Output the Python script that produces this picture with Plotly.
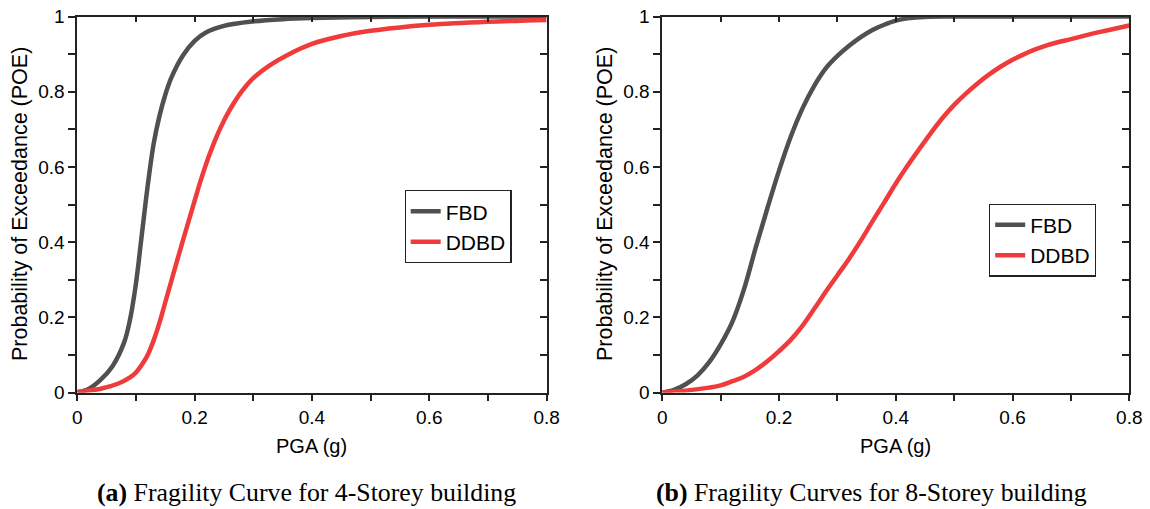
import plotly.graph_objects as go

# ---- data ----
a_fbd_x = [0, 0.02, 0.04, 0.06, 0.08, 0.09, 0.10, 0.11, 0.12, 0.13, 0.14, 0.15, 0.16, 0.18,
           0.20, 0.22, 0.25, 0.30, 0.35, 0.40, 0.5, 0.6, 0.8]
a_fbd_y = [0, 0.010, 0.034, 0.070, 0.134, 0.195, 0.290, 0.420, 0.550, 0.660, 0.735, 0.792,
           0.836, 0.896, 0.935, 0.958, 0.975, 0.987, 0.993, 0.996, 0.999, 1.0, 1.0]

a_ddbd_x = [0, 0.04, 0.07, 0.09, 0.10, 0.11, 0.12, 0.13, 0.14, 0.15, 0.16, 0.17, 0.18, 0.19,
            0.20, 0.21, 0.22, 0.23, 0.24, 0.25, 0.26, 0.28, 0.30, 0.33, 0.36, 0.40, 0.45,
            0.50, 0.55, 0.60, 0.70, 0.80]
a_ddbd_y = [0.002, 0.010, 0.024, 0.040, 0.053, 0.074, 0.100, 0.138, 0.185, 0.240, 0.295,
            0.350, 0.404, 0.457, 0.510, 0.562, 0.610, 0.652, 0.690, 0.723, 0.752, 0.800,
            0.836, 0.872, 0.899, 0.927, 0.948, 0.962, 0.971, 0.978, 0.986, 0.991]

b_fbd_x = [0, 0.02, 0.04, 0.06, 0.08, 0.10, 0.12, 0.14, 0.16, 0.18, 0.20, 0.22, 0.24, 0.26,
           0.28, 0.30, 0.32, 0.34, 0.36, 0.38, 0.40, 0.42, 0.45, 0.50, 0.80]
b_fbd_y = [0, 0.007, 0.022, 0.045, 0.080, 0.128, 0.188, 0.275, 0.385, 0.490, 0.590, 0.680,
           0.755, 0.815, 0.862, 0.895, 0.922, 0.945, 0.964, 0.978, 0.989, 0.995, 0.999, 1.0, 1.0]

b_ddbd_x = [0, 0.04, 0.08, 0.10, 0.12, 0.14, 0.16, 0.18, 0.20, 0.22, 0.24, 0.26, 0.28, 0.30,
            0.32, 0.34, 0.36, 0.38, 0.40, 0.42, 0.44, 0.46, 0.48, 0.50, 0.52, 0.54, 0.56,
            0.58, 0.60, 0.62, 0.64, 0.66, 0.70, 0.75, 0.80]
b_ddbd_y = [0, 0.005, 0.013, 0.019, 0.030, 0.042, 0.060, 0.083, 0.110, 0.140, 0.177, 0.222,
            0.268, 0.312, 0.356, 0.404, 0.455, 0.505, 0.556, 0.603, 0.647, 0.690, 0.730,
            0.765, 0.795, 0.822, 0.846, 0.867, 0.885, 0.900, 0.913, 0.924, 0.940, 0.959, 0.976]

series_names = ["FBD", "DDBD"]
x_ticks = [0, 0.2, 0.4, 0.6, 0.8]
y_ticks = [0, 0.2, 0.4, 0.6, 0.8, 1]
captions = ["<b>(a)</b> Fragility Curve for 4-Storey building",
            "<b>(b)</b> Fragility Curves for 8-Storey building"]
x_title = "PGA (g)"
y_title = "Probability of Exceedance (POE)"

GRAY = "#505050"
RED = "#ef3b3b"
W, H = 1150, 509
FONT = "Liberation Sans, Arial, sans-serif"

def px_x(p):
    return p / W

def px_y(p):
    return 1 - p / H

dom_a = [px_x(77.3), px_x(546.6)]
dom_b = [px_x(662.3), px_x(1129.3)]
dom_y = [px_y(392.5), px_y(16.5)]

fig = go.Figure()
line_kw = dict(width=4.5, shape="spline", smoothing=1.0)
fig.add_trace(go.Scatter(x=a_fbd_x, y=a_fbd_y, name=series_names[0], mode="lines",
                         line=dict(color=GRAY, **line_kw), xaxis="x", yaxis="y", legend="legend"))
fig.add_trace(go.Scatter(x=a_ddbd_x, y=a_ddbd_y, name=series_names[1], mode="lines",
                         line=dict(color=RED, **line_kw), xaxis="x", yaxis="y", legend="legend"))
fig.add_trace(go.Scatter(x=b_fbd_x, y=b_fbd_y, name=series_names[0], mode="lines",
                         line=dict(color=GRAY, **line_kw), xaxis="x2", yaxis="y2", legend="legend2"))
fig.add_trace(go.Scatter(x=b_ddbd_x, y=b_ddbd_y, name=series_names[1], mode="lines",
                         line=dict(color=RED, **line_kw), xaxis="x2", yaxis="y2", legend="legend2"))
# empty traces so the mirrored (inside-tick) axes get drawn
fig.add_trace(go.Scatter(x=[None], y=[None], xaxis="x3", yaxis="y3", showlegend=False, hoverinfo="skip"))
fig.add_trace(go.Scatter(x=[None], y=[None], xaxis="x4", yaxis="y4", showlegend=False, hoverinfo="skip"))

AX_COL = "#222222"
tickfont = dict(family=FONT, size=19, color="black")

def xmain(domain, anchor):
    return dict(domain=domain, anchor=anchor, range=[0, 0.8], tickvals=x_ticks,
                ticktext=[f"{v:g}" for v in x_ticks],
                ticks="outside", ticklen=7, tickwidth=1.5, tickcolor=AX_COL,
                minor=dict(dtick=0.1, ticks="outside", ticklen=7, tickwidth=1.5, tickcolor=AX_COL),
                showline=True, linewidth=1.8, linecolor=AX_COL, showgrid=False, zeroline=False,
                tickfont=tickfont, fixedrange=True, automargin=False)

def ymain(domain, anchor):
    return dict(domain=domain, anchor=anchor, range=[0, 1], tickvals=y_ticks,
                ticktext=[f"{v:g}" for v in y_ticks],
                ticks="outside", ticklen=7, tickwidth=1.5, tickcolor=AX_COL,
                minor=dict(dtick=0.1, ticks="outside", ticklen=7, tickwidth=1.5, tickcolor=AX_COL),
                showline=True, linewidth=1.8, linecolor=AX_COL, showgrid=False, zeroline=False,
                tickfont=tickfont, fixedrange=True, automargin=False)

def xmirror(over, anchor):
    return dict(overlaying=over, anchor=anchor, side="top", range=[0, 0.8], dtick=0.2,
                ticks="inside", ticklen=6, tickwidth=1.5, tickcolor=AX_COL,
                minor=dict(dtick=0.1, ticks="inside", ticklen=6, tickwidth=1.5, tickcolor=AX_COL),
                showticklabels=False, showline=True, linewidth=1.8, linecolor=AX_COL,
                showgrid=False, zeroline=False, fixedrange=True)

def ymirror(over, anchor):
    return dict(overlaying=over, anchor=anchor, side="right", range=[0, 1], dtick=0.2,
                ticks="inside", ticklen=7, tickwidth=1.5, tickcolor=AX_COL,
                minor=dict(dtick=0.1, ticks="inside", ticklen=7, tickwidth=1.5, tickcolor=AX_COL),
                showticklabels=False, showline=True, linewidth=1.8, linecolor=AX_COL,
                showgrid=False, zeroline=False, fixedrange=True)

legend_style = dict(font=dict(family=FONT, size=21, color="black"), bgcolor="white",
                    bordercolor="#222222", borderwidth=1.2, xanchor="left", yanchor="middle",
                    xref="paper", yref="paper", itemwidth=30, tracegroupgap=0,
                    entrywidth=78, entrywidthmode="pixels")

fig.update_layout(
    width=W, height=H, margin=dict(l=0, r=0, t=0, b=0),
    paper_bgcolor="white", plot_bgcolor="white", showlegend=True,
    xaxis=xmain(dom_a, "y"), yaxis=ymain(dom_y, "x"),
    xaxis2=xmain(dom_b, "y2"), yaxis2=ymain(dom_y, "x2"),
    xaxis3=xmirror("x", "y3"), yaxis3=ymirror("y", "x3"),
    xaxis4=xmirror("x2", "y4"), yaxis4=ymirror("y2", "x4"),
    legend=dict(x=px_x(404.5), y=px_y(226.5), **legend_style),
    legend2=dict(x=px_x(989), y=px_y(240), **legend_style),
)

ann = []
for cx in [(77.3 + 546.6) / 2, (662.3 + 1129.3) / 2]:
    ann.append(dict(text=x_title, x=px_x(cx), y=px_y(446), xref="paper", yref="paper",
                    xanchor="center", yanchor="middle", showarrow=False,
                    font=dict(family=FONT, size=20, color="black")))
for cx in [20, 605]:
    ann.append(dict(text=y_title, x=px_x(cx), y=px_y(204), xref="paper", yref="paper",
                    xanchor="center", yanchor="middle", showarrow=False, textangle=-90,
                    font=dict(family=FONT, size=21.5, color="black")))
for cx, cap in zip([306, 871], captions):
    ann.append(dict(text=cap, x=px_x(cx), y=px_y(492), xref="paper", yref="paper",
                    xanchor="center", yanchor="middle", showarrow=False,
                    font=dict(family="Liberation Serif, Times New Roman, serif", size=25.8, color="black")))
fig.update_layout(annotations=ann)

fig.write_html("out.html")
